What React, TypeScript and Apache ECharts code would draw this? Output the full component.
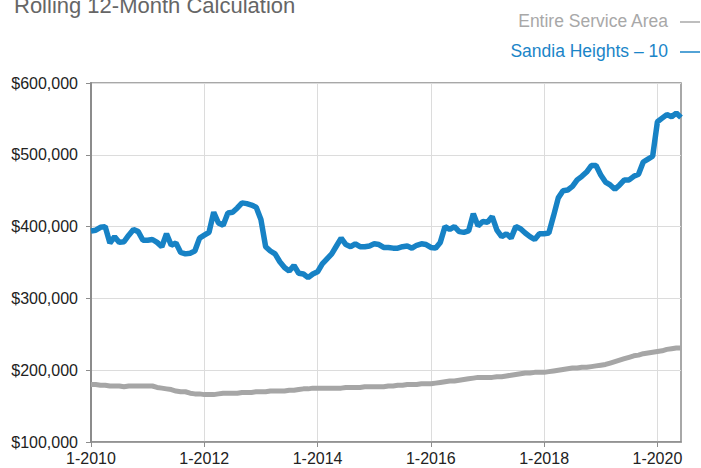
import React, { useEffect, useRef } from "react";
import * as echarts from "echarts";

const titleText = "Rolling 12-Month Calculation";
const seriesNames = ["Entire Service Area", "Sandia Heights – 10"];

// Months Jan 2010 .. Jun 2020
const startYear = 2010;
const monthCount = 126;
const categories: string[] = [];
for (let i = 0; i < monthCount; i++) {
  categories.push(`${(i % 12) + 1}-${startYear + Math.floor(i / 12)}`);
}

const yTicks = [100000, 200000, 300000, 400000, 500000, 600000];

// Sandia Heights – 10 (in $)
const sandiaHeights = [
  394000, 395000, 399000, 400000, 377000, 386000, 378000, 379000, 388000, 396000, 393000, 381000,
  381000, 382000, 378000, 372000, 390000, 374000, 377000, 364000, 362000, 363000, 366000, 384000,
  388000, 392000, 420000, 405000, 402000, 419000, 420000, 426000, 433000, 432000, 430000, 427000,
  410000, 372000, 366000, 362000, 351000, 343000, 338000, 346000, 335000, 334000, 329000, 334000,
  337000, 348000, 355000, 362000, 373000, 384000, 375000, 372000, 376000, 372000, 372000, 373000,
  376000, 375000, 371000, 371000, 370000, 370000, 372000, 373000, 370000, 374000, 376000, 375000,
  371000, 370000, 378000, 400000, 396000, 400000, 393000, 392000, 394000, 418000, 401000, 407000,
  406000, 414000, 395000, 386000, 390000, 384000, 400000, 397000, 391000, 386000, 382000, 390000,
  390000, 391000, 415000, 440000, 450000, 451000, 456000, 465000, 470000, 476000, 485000, 485000,
  472000, 462000, 458000, 452000, 458000, 465000, 465000, 470000, 473000, 490000, 494000, 498000,
  546000, 551000, 556000, 553000, 558000, 552000,
];

// Entire Service Area (in $)
const entireServiceArea = [
  180000, 180000, 179000, 179000, 178000, 178000, 178000, 177000, 178000, 178000, 178000, 178000,
  178000, 178000, 176000, 175000, 174000, 173000, 171000, 170000, 170000, 168000, 167000, 167000,
  166000, 166000, 166000, 167000, 168000, 168000, 168000, 168000, 169000, 169000, 169000, 170000,
  170000, 170000, 171000, 171000, 171000, 171000, 172000, 172000, 173000, 174000, 174000, 175000,
  175000, 175000, 175000, 175000, 175000, 175000, 176000, 176000, 176000, 176000, 177000, 177000,
  177000, 177000, 177000, 178000, 178000, 179000, 179000, 180000, 180000, 180000, 181000, 181000,
  181000, 182000, 183000, 184000, 185000, 185000, 186000, 187000, 188000, 189000, 190000, 190000,
  190000, 190000, 191000, 191000, 192000, 193000, 194000, 195000, 196000, 196000, 197000, 197000,
  197000, 198000, 199000, 200000, 201000, 202000, 203000, 203000, 204000, 204000, 205000, 206000,
  207000, 208000, 210000, 212000, 214000, 216000, 218000, 220000, 221000, 223000, 224000, 225000,
  226000, 227000, 229000, 230000, 231000, 231000,
];

const FONT = "'Liberation Sans', Arial, Helvetica, sans-serif";
const BLUE = "#1782c5";
const GREY = "#a6a6a6";

export default function App() {
  const ref = useRef<HTMLDivElement>(null);
  useEffect(() => {
    if (!ref.current) return;
    const chart = echarts.init(ref.current, undefined, { renderer: "svg" });
    chart.setOption({
      animation: false,
      backgroundColor: "#ffffff",
      textStyle: { fontFamily: FONT },
      grid: {
        left: 91,
        right: 20,
        top: 83,
        bottom: 26,
        show: true,
        borderColor: "#8c8c8c",
        borderWidth: 1.5,
      },
      graphic: [
        {
          type: "text",
          left: 14,
          top: -6,
          style: {
            text: titleText,
            font: `22px ${FONT}`,
            fill: "#666666",
          },
        },
        {
          type: "text",
          x: 668,
          y: 21,
          style: {
            text: seriesNames[0],
            font: `17.5px ${FONT}`,
            fill: "#a8a8a8",
            align: "right",
            verticalAlign: "middle",
          },
        },
        {
          type: "line",
          shape: { x1: 680, y1: 22, x2: 700, y2: 22 },
          style: { stroke: "#a8a8a8", lineWidth: 1.5 },
        },
        {
          type: "text",
          x: 668,
          y: 51,
          style: {
            text: seriesNames[1],
            font: `17.5px ${FONT}`,
            fill: "#1a85c8",
            align: "right",
            verticalAlign: "middle",
          },
        },
        {
          type: "line",
          shape: { x1: 680, y1: 52, x2: 700, y2: 52 },
          style: { stroke: "#1a85c8", lineWidth: 1.5 },
        },
      ],
      xAxis: {
        type: "category",
        data: categories,
        boundaryGap: false,
        axisLine: { show: true, lineStyle: { color: "#8c8c8c", width: 1.5 } },
        axisTick: {
          show: true,
          interval: 23,
          length: 5,
          lineStyle: { color: "#8c8c8c", width: 1 },
        },
        axisLabel: {
          interval: 23,
          margin: 8,
          color: "#222222",
          fontSize: 16,
          fontFamily: FONT,
        },
        splitLine: {
          show: true,
          interval: 23,
          lineStyle: { color: "#dcdcdc", width: 1 },
        },
      },
      yAxis: {
        type: "value",
        min: yTicks[0],
        max: yTicks[yTicks.length - 1],
        interval: 100000,
        axisLine: { show: true, lineStyle: { color: "#8c8c8c", width: 2 } },
        axisTick: { show: true, length: 5, lineStyle: { color: "#8c8c8c" } },
        axisLabel: {
          margin: 13,
          color: "#222222",
          fontSize: 16,
          fontFamily: FONT,
          formatter: (v: number) => "$" + v.toLocaleString("en-US"),
        },
        splitLine: { show: true, lineStyle: { color: "#dcdcdc", width: 1 } },
      },
      series: [
        {
          name: seriesNames[0],
          type: "line",
          data: entireServiceArea,
          symbol: "none",
          lineStyle: { color: GREY, width: 5 },
          itemStyle: { color: GREY },
        },
        {
          name: seriesNames[1],
          type: "line",
          data: sandiaHeights,
          symbol: "none",
          lineStyle: { color: BLUE, width: 5.5 },
          itemStyle: { color: BLUE },
        },
      ],
    });
    return () => chart.dispose();
  }, []);
  return (
    <div
      ref={ref}
      style={{ position: "absolute", left: 0, top: 0, width: 701, height: 468, overflow: "hidden" }}
    />
  );
}
